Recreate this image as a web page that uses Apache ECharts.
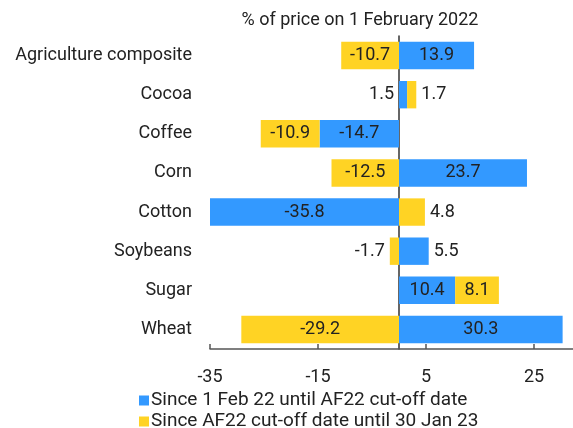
<!DOCTYPE html>
<html>
<head>
<meta charset="utf-8">
<script src="https://cdn.jsdelivr.net/npm/echarts@6/dist/echarts.min.js"></script>
<style>
  html, body { margin: 0; padding: 0; background: #fff; }
  #chart { width: 573px; height: 428px; }
</style>
</head>
<body>
<div id="chart"></div>
<script>
const categories = ['Agriculture composite', 'Cocoa', 'Coffee', 'Corn', 'Cotton', 'Soybeans', 'Sugar', 'Wheat']
const sinceFeb22 = [13.9, 1.5, -14.7, 23.7, -35.8, 5.5, 10.4, 30.3]
const sinceAF22 = [-10.7, 1.7, -10.9, -12.5, 4.8, -1.7, 8.1, -29.2]
const seriesNames = ['Since 1 Feb 22 until AF22 cut-off date', 'Since AF22 cut-off date until 30 Jan 23']
const xTicks = [-35, -15, 5, 25]

const font = 'Roboto, "Noto Sans", sans-serif'
const txt = '#222'

// small bars get their label outside
function toItems(values, forceLeft) {
  return values.map((v, i) => {
    let item = { value: v }
    if (Math.abs(v) < 6) {
      let pos = v < 0 || forceLeft.indexOf(i) >= 0 ? 'left' : 'right'
      item.label = { position: pos, distance: 5 }
    }
    return item
  })
}

let chart = echarts.init(document.getElementById('chart'))
let option = {
  animation: false,
  textStyle: { fontFamily: font },
  title: {
    text: '% of price on 1 February 2022',
    left: 355,
    textAlign: 'center',
    top: 6,
    textStyle: { fontFamily: font, fontSize: 18, fontWeight: 'normal', color: txt }
  },
  legend: {
    orient: 'vertical',
    left: 134,
    top: 386,
    height: 50,
    itemWidth: 10,
    itemHeight: 10,
    itemGap: 2,
    icon: 'rect',
    data: seriesNames,
    textStyle: { fontFamily: font, fontSize: 19, color: txt, padding: [0, 0, 0, -3] }
  },
  grid: { left: 210, top: 36, width: 378, height: 313, containLabel: false, outerBoundsMode: 'none' },
  xAxis: {
    type: 'value',
    min: xTicks[0],
    max: 35,
    interval: xTicks[1] - xTicks[0],
    splitLine: { show: false },
    axisLine: { show: true, lineStyle: { color: '#555', width: 1.5 } },
    axisTick: { show: true, inside: true, length: 5, lineStyle: { color: '#555', width: 1.5 } },
    axisLabel: { fontFamily: font, fontSize: 18, color: txt, margin: 19, showMaxLabel: false }
  },
  yAxis: {
    type: 'category',
    inverse: true,
    data: categories,
    axisLine: { onZero: true, lineStyle: { color: '#333', width: 1.5 } },
    axisTick: { inside: true, length: 5, lineStyle: { color: '#333', width: 1.5 } },
    axisLabel: { fontFamily: font, fontSize: 18, color: txt, margin: 18 }
  },
  series: [
    {
      name: seriesNames[0],
      type: 'bar',
      stack: 'total',
      barCategoryGap: '30%',
      itemStyle: { color: '#3399ff' },
      label: { show: true, position: 'inside', fontFamily: font, fontSize: 18, color: txt },
      data: toItems(sinceFeb22, [1])
    },
    {
      name: seriesNames[1],
      type: 'bar',
      stack: 'total',
      barCategoryGap: '30%',
      itemStyle: { color: '#ffd324' },
      label: { show: true, position: 'inside', fontFamily: font, fontSize: 18, color: txt },
      data: toItems(sinceAF22, [])
    }
  ]
}
chart.setOption(option)
</script>
</body>
</html>
